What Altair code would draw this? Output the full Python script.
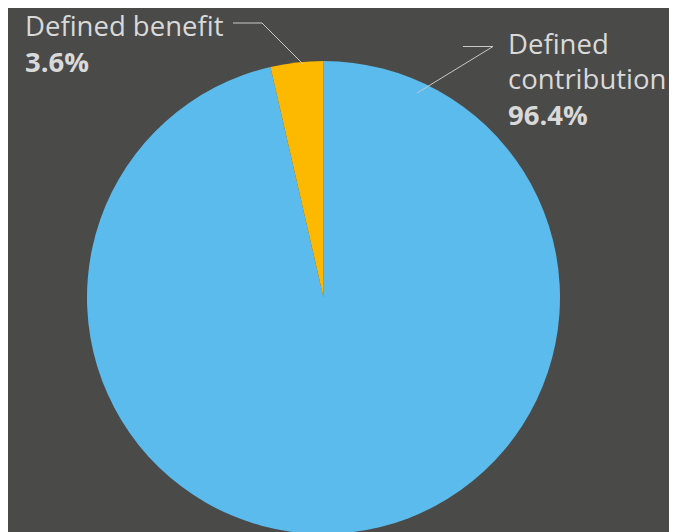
import altair as alt
import pandas as pd

categories = ["Defined contribution", "Defined benefit"]
shares = [96.4, 3.6]
colors = ["#5bbbec", "#fdb900"]
order = [0, 1]

BG = "#4a4a49"
TXT = "#d9d9d9"
LINE = "#c8c8c8"
FONT = "Open Sans"

df = pd.DataFrame({"category": categories, "share": shares, "order": order})

# chart coordinates (page minus the 8px margin)
cx, cy, R = 315.5, 289.5, 236.5

pie = alt.Chart(df).mark_arc(radius=R).encode(
    theta=alt.Theta("share:Q", stack=True),
    order=alt.Order("order:Q"),
    color=alt.Color("category:N", scale=alt.Scale(domain=categories, range=colors), legend=None),
    x=alt.value(cx),
    y=alt.value(cy),
)

# leader lines (annotation)
lines_df = pd.DataFrame({
    "x": [225, 254, 455, 485],
    "y": [15, 15, 38.5, 38.5],
    "x2": [254, 295, 485, 409],
    "y2": [15, 56, 38.5, 85],
})
leaders = alt.Chart(lines_df).mark_rule(color=LINE, strokeWidth=1).encode(
    x=alt.X("x:Q", scale=None), y=alt.Y("y:Q", scale=None),
    x2="x2:Q", y2="y2:Q",
)

def label(text, x, y, bold=False):
    return alt.Chart(pd.DataFrame({"t": [text]})).mark_text(
        align="left", baseline="alphabetic", font=FONT, fontSize=27.5,
        fontWeight="bold" if bold else "normal", color=TXT,
    ).encode(text="t:N", x=alt.value(x), y=alt.value(y))

labels = [
    label("Defined benefit", 17, 28),
    label(f"{shares[1]}%", 17, 64, bold=True),
    label("Defined", 500, 46),
    label("contribution", 500, 81),
    label(f"{shares[0]}%", 500, 116.5, bold=True),
]

chart = alt.layer(pie, leaders, *labels).properties(
    width=661, height=530, background=BG,
    autosize=alt.AutoSizeParams(type="none"), padding=0,
).configure_view(stroke=None)

chart.save("out.html", embed_options={"renderer": "svg", "actions": False})
